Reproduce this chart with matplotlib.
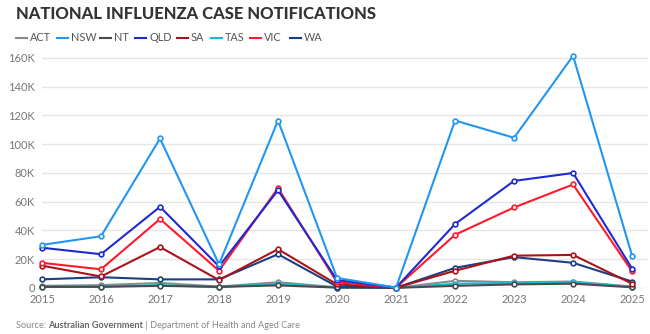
import matplotlib
matplotlib.use("Agg")
import matplotlib.pyplot as plt
from matplotlib.lines import Line2D

years = [2015, 2016, 2017, 2018, 2019, 2020, 2021, 2022, 2023, 2024, 2025]
act = [1500, 2000, 3500, 1000, 4000, 500, 100, 5000, 4000, 4500, 1000]
nsw = [30000, 36000, 104000, 16500, 116500, 7000, 300, 116500, 104500, 161500, 22500]
nt = [800, 800, 1500, 800, 1800, 300, 100, 1500, 2500, 3000, 500]
qld = [28000, 23500, 56500, 15000, 68000, 5500, 300, 44500, 74500, 80000, 13500]
sa = [15500, 8000, 28500, 5500, 27000, 2500, 200, 12000, 22500, 23000, 3000]
tas = [800, 1000, 2000, 500, 3000, 300, 100, 3000, 3500, 4000, 800]
vic = [17500, 13000, 48000, 12000, 69500, 4000, 300, 37000, 56000, 72000, 11500]
wa = [6000, 7500, 6000, 6000, 23500, 1000, 200, 14000, 21500, 17500, 4500]

series = [
    ("ACT", act, "#8a8a8a"),
    ("NSW", nsw, "#2196f3"),
    ("NT", nt, "#4a4a4a"),
    ("QLD", qld, "#1f2bd1"),
    ("SA", sa, "#a8141c"),
    ("TAS", tas, "#1cb8d8"),
    ("VIC", vic, "#ff1a2b"),
    ("WA", wa, "#1b3f82"),
]
yticks = [0, 20000, 40000, 60000, 80000, 100000, 120000, 140000, 160000]
ytick_labels = ["0", "20K", "40K", "60K", "80K", "100K", "120K", "140K", "160K"]

plt.rcParams["font.family"] = ["Lato", "DejaVu Sans"]

fig = plt.figure(figsize=(6.5, 3.34), dpi=100)
ax = fig.add_axes([42 / 650, 46 / 334, 606 / 650, (288 - 50.8) / 334])

# draw order: later series on top
order = ["ACT", "TAS", "NT", "WA", "SA", "VIC", "QLD", "NSW"]
lookup = {name: (vals, col) for name, vals, col in series}
for z, name in enumerate(order):
    vals, col = lookup[name]
    ax.plot(years, vals, color=col, lw=1.5, marker="o", ms=3.4,
            mfc="white", mec=col, mew=1.2, clip_on=False, zorder=3 + z)

ax.set_xlim(2015, 2025.27)
ax.set_ylim(0, 165000)
ax.set_yticks(yticks)
ax.set_yticklabels(ytick_labels)
ax.set_xticks(years)
ax.set_xticklabels([str(y) for y in years])
ax.grid(axis="y", color="#e6e6e6", lw=1)
ax.set_axisbelow(True)
for s in ax.spines.values():
    s.set_visible(False)
ax.tick_params(length=0, labelsize=8, labelcolor="#777777")
ax.tick_params(axis="y", pad=5)
ax.tick_params(axis="x", pad=4)

fig.text(16 / 650, 1 - 6 / 334, "NATIONAL INFLUENZA CASE NOTIFICATIONS",
         fontsize=12, fontweight="black", color="#333333", va="top", ha="left")

# legend row
legend_x = [16, 57, 100, 135, 177, 211, 250, 290]
ly = 1 - 37.5 / 334
for (name, vals, col), lx in zip(series, legend_x):
    fig.add_artist(Line2D([lx / 650, (lx + 11) / 650], [ly, ly], color=col, lw=1.5))
    fig.text((lx + 14) / 650, ly, name, fontsize=7.8, color="#555555",
             va="center", ha="left")

# source line
t1 = fig.text(16 / 650, 1 - 325 / 334, "Source: ", fontsize=6.6, color="#888888",
              va="center", ha="left")
fig.canvas.draw()
r = fig.canvas.get_renderer()
bb = t1.get_window_extent(r)
t2 = fig.text(bb.x1 / 650, 1 - 325 / 334, "Australian Government", fontsize=6.6,
              color="#666666", fontweight="bold", va="center", ha="left")
bb2 = t2.get_window_extent(r)
fig.text(bb2.x1 / 650, 1 - 325 / 334, " | Department of Health and Aged Care",
         fontsize=6.6, color="#888888", va="center", ha="left")

fig.savefig("out.png", dpi=100)
